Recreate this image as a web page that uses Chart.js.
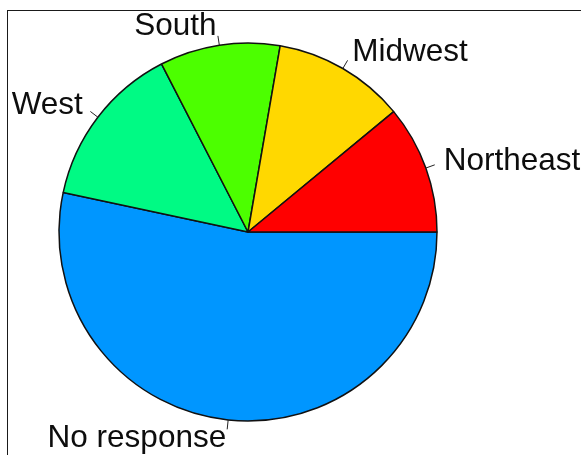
<!DOCTYPE html>
<html lang="en">
<head>
  <meta charset="UTF-8">
  <title>Region</title>
  <script src="https://cdn.jsdelivr.net/npm/chart.js"></script>
  <style>
    html, body { margin: 0; padding: 0; background: #fff; overflow: hidden; }
    .wrap { position: relative; width: 581px; height: 455px; }
    .frame {
      position: absolute; left: 7px; top: 10px; width: 700px; height: 600px;
      border: 1.5px solid #1a1a1a; box-sizing: border-box;
    }
    #grafico { position: absolute; left: 0; top: 0; }
  </style>
</head>
<body>
  <div class="wrap">
    <div class="frame"></div>
    <canvas id="grafico" width="581" height="455"></canvas>
  </div>

  <script>
    // slices go counter-clockwise from 3 o'clock, starting with Northeast
    var regioes = ['Northeast', 'Midwest', 'South', 'West', 'No response']
    var percentuais = [11.0, 11.3, 10.3, 14.1, 53.4]
    var cores = ['#ff0000', '#ffd800', '#4cff00', '#00fa84', '#0096ff']

    // chart.js draws clockwise, so feed it reversed
    var labels = regioes.slice().reverse()
    var dados = percentuais.slice().reverse()
    var fundo = cores.slice().reverse()

    // names outside the pie with a short tick, like base R pie()
    var rotulos = {
      id: 'rotulos',
      afterDatasetsDraw: function (chart) {
        var ctx = chart.ctx
        var arcs = chart.getDatasetMeta(0).data
        ctx.save()
        ctx.font = '31.5px "Liberation Sans", Arial, sans-serif'
        ctx.fillStyle = '#0d0d0d'
        ctx.strokeStyle = '#222'
        ctx.lineWidth = 1
        ctx.textBaseline = 'middle'
        for (var i = 0; i < arcs.length; i++) {
          var a = arcs[i]
          var meio = (a.startAngle + a.endAngle) / 2
          var c = Math.cos(meio), s = Math.sin(meio)
          var r = a.outerRadius
          ctx.beginPath()
          ctx.moveTo(a.x + r * c, a.y + r * s)
          ctx.lineTo(a.x + 1.05 * r * c, a.y + 1.05 * r * s)
          ctx.stroke()
          ctx.textAlign = c > 0 ? 'left' : 'right'
          ctx.fillText(labels[i], a.x + 1.1 * r * c, a.y + 1.1 * r * s)
        }
        ctx.restore()
      }
    }

    new Chart(document.getElementById('grafico'), {
      type: 'pie',
      data: {
        labels: labels,
        datasets: [{
          data: dados,
          backgroundColor: fundo,
          borderColor: '#111',
          borderWidth: 1.5,
          hoverOffset: 0
        }]
      },
      options: {
        responsive: false,
        animation: false,
        rotation: 90,
        radius: 189,
        layout: { padding: { left: 59, right: 144, top: 43, bottom: 34 } },
        plugins: {
          legend: { display: false },
          tooltip: { enabled: false }
        }
      },
      plugins: [rotulos]
    })
  </script>
</body>
</html>
